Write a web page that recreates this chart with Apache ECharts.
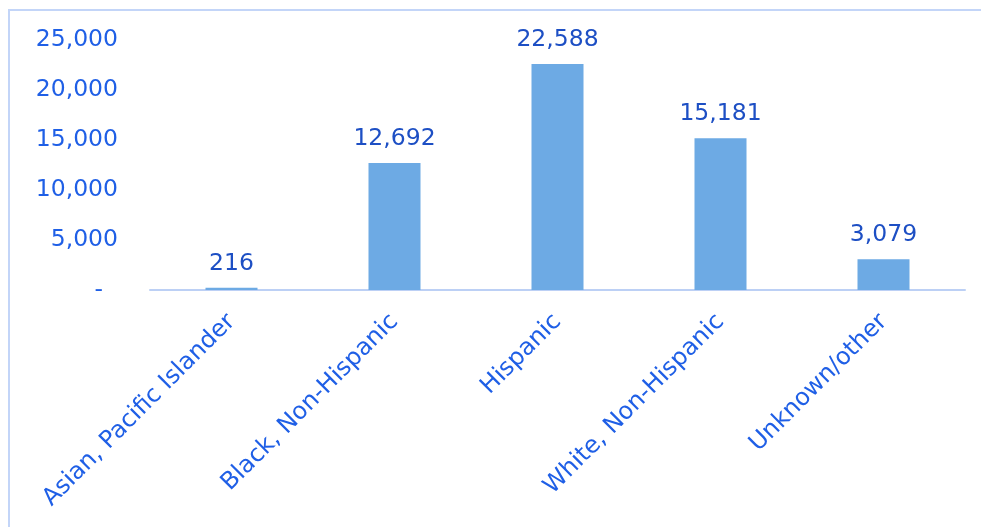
<!DOCTYPE html>
<html>
<head>
<meta charset="utf-8">
<script src="https://cdn.jsdelivr.net/npm/echarts@6/dist/echarts.min.js"></script>
<style>
  html, body { margin: 0; padding: 0; background: #fff; }
  #chart { width: 981px; height: 527px; }
</style>
</head>
<body>
<div id="chart"></div>
<script>
const categories = [
  "Asian, Pacific Islander",
  "Black, Non-Hispanic",
  "Hispanic",
  "White, Non-Hispanic",
  "Unknown/other"
];
const values = [216, 12692, 22588, 15181, 3079];
const yTicks = [0, 5000, 10000, 15000, 20000, 25000];

const FONT = "DejaVu Sans, Verdana, sans-serif";

const chart = echarts.init(document.getElementById("chart"));

chart.setOption({
  animation: false,
  grid: {
    left: 150,
    right: 16,
    top: 40,
    bottom: 237
  },
  graphic: [
    {
      type: "polyline",
      silent: true,
      shape: { points: [[9, 540], [9, 10], [995, 10]] },
      style: { stroke: "#c3d5f8", lineWidth: 2, fill: null }
    }
  ],
  xAxis: {
    type: "category",
    data: categories,
    axisLine: { lineStyle: { color: "#bcd0f5", width: 2 } },
    axisTick: { show: false },
    axisLabel: {
      rotate: 45,
      interval: 0,
      margin: 28,
      color: "#1f5fe6",
      fontSize: 24,
      fontFamily: FONT
    }
  },
  yAxis: {
    type: "value",
    min: yTicks[0],
    max: yTicks[yTicks.length - 1],
    interval: 5000,
    axisLine: { show: false },
    axisTick: { show: false },
    splitLine: { show: false },
    axisLabel: {
      margin: 32,
      color: "#1f5fe6",
      fontSize: 23.5,
      fontFamily: FONT,
      formatter: function (v) {
        return v === 0 ? "-  " : v.toLocaleString("en-US");
      }
    }
  },
  series: [
    {
      type: "bar",
      data: values,
      barWidth: 52,
      itemStyle: { color: "#6daae4" },
      label: {
        show: true,
        position: "top",
        distance: 12,
        color: "#1d4fc4",
        fontSize: 23.5,
        fontFamily: FONT,
        formatter: function (p) {
          return p.value.toLocaleString("en-US");
        }
      }
    }
  ]
});
</script>
</body>
</html>
